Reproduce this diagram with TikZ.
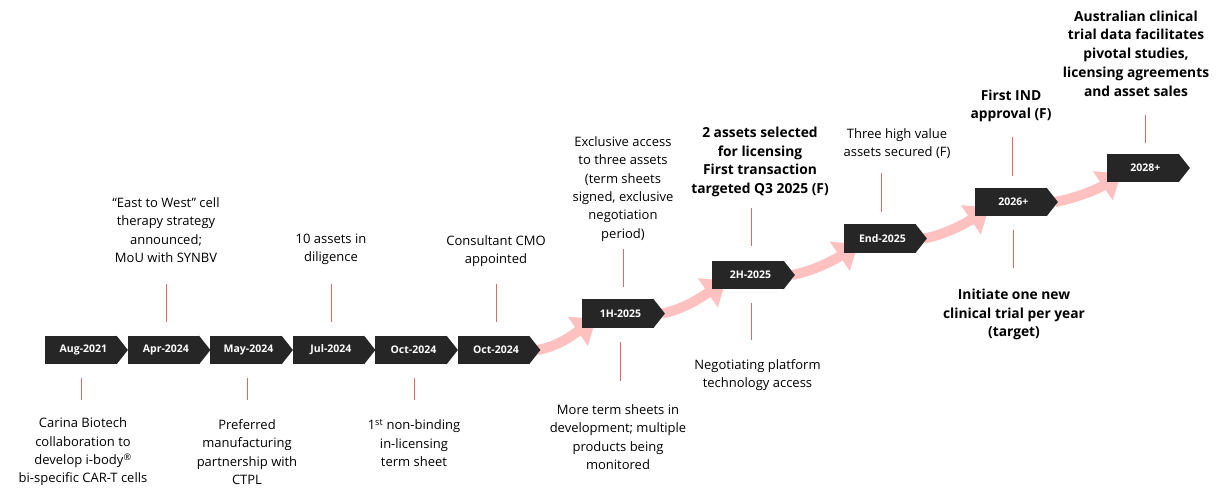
\documentclass[tikz,border=0pt]{standalone}
\usepackage{fontspec}
\setmainfont{Open Sans}
\usetikzlibrary{arrows.meta,backgrounds,calc}
\definecolor{chev}{RGB}{38,38,38}
\definecolor{arr}{RGB}{255,192,192}
\definecolor{tickc}{RGB}{226,104,104}
\tikzset{
  chevbody/.style={fill=chev, minimum width=71.5pt, minimum height=28.5pt, inner sep=0pt, anchor=west},
  chevlab/.style={text=white, font=\bfseries\fontsize{10.5}{12}\selectfont, inner sep=0pt},
  note/.style={align=center, font=\fontsize{13}{18.3}\selectfont, inner sep=0pt},
  bnote/.style={align=center, font=\bfseries\fontsize{13.8}{18.7}\selectfont, inner sep=0pt},
  tick/.style={draw=tickc, line width=1.3pt},
  flow/.style={draw=arr, line width=10pt, -{Triangle[width=34pt,length=22pt]}},
}
\begin{document}
\begin{tikzpicture}[x=1pt,y=-1pt]
\useasboundingbox (0,0) rectangle (1224,496);
% chevrons
\foreach \nm/\x/\y/\lab in {c1/45/350/Aug-2021, c2/127.5/350/Apr-2024, c3/210/350/May-2024,
  c4/292.5/350/Jul-2024, c5/375/350/Oct-2024, c6/457.5/350/Oct-2024,
  h1/582/313.5/1H-2025, h2/712/275/2H-2025, e25/844/238.5/End-2025,
  y26/975/202/2026+, y28/1107/168/2028+}{
  \node[chevbody] (\nm) at (\x,\y) {};
  \fill[chev] ([xshift=-0.4pt]\nm.north east) -- ([xshift=11pt]\nm.east) -- ([xshift=-0.4pt]\nm.south east) -- cycle;
  \node[chevlab] (\nm-l) at ([xshift=2.5pt]\nm.center) {\lab};
}
% flow arrows
\begin{scope}[on background layer]
\foreach \a/\b in {c6/h1, h1/h2, h2/e25, e25/y26, y26/y28}{
  \coordinate (s-\b) at ([xshift=8pt]\a.east);
  \coordinate (t-\b) at ([xshift=14pt,yshift=9pt]\b.south west);
  \draw[flow] (s-\b) .. controls ($(s-\b)+(22,-4)$) and ($(t-\b)+(-22,15)$) .. (t-\b);
}
\end{scope}
% ticks
\draw[tick] ($(c1.south)+(0.5,14)$) -- ++(0,22);
\draw[tick] ($(c3.south)+(1.5,14)$) -- ++(0,22);
\draw[tick] ($(c5.south)+(3.5,14)$) -- ++(0,22);
\draw[tick] ($(c2.north)+(3,-14)$) -- ++(0,-38);
\draw[tick] ($(c4.north)+(3,-14)$) -- ++(0,-38);
\draw[tick] ($(c6.north)+(3,-14)$) -- ++(0,-38);
\draw[tick] ($(h1.north)+(5.5,-12)$) -- ++(0,-38);
\draw[tick] ($(h1.south)+(2.5,14)$) -- ++(0,39);
\draw[tick] ($(h2.north)+(3.5,-15)$) -- ++(0,-38);
\draw[tick] ($(h2.south)+(3.5,14)$) -- ++(0,37);
\draw[tick] ($(e25.north)+(1.5,-12)$) -- ++(0,-39);
\draw[tick] ($(y26.north)+(1.5,-12)$) -- ++(0,-39);
\draw[tick] ($(y26.south)+(2.5,14)$) -- ++(0,38);
\draw[tick] ($(y28.north)+(2.5,-11)$) -- ++(0,-28);
% notes
\node[note] (n1) at (83,452) {Carina Biotech\\collaboration to\\develop i-body\textsuperscript{®}\\bi-specific CAR-T cells};
\node[note] (n2) at (166,230) {“East to West” cell\\therapy strategy\\announced;\\MoU with SYNBV};
\node[note] (n3) at (247,452) {Preferred\\manufacturing\\partnership with\\CTPL};
\node[note] (n4) at (331,249) {10 assets in\\diligence};
\node[note] (n5) at (414,443) {1\textsuperscript{st} non-binding\\in-licensing\\term sheet};
\node[note] (n6) at (496,251) {Consultant CMO\\appointed};
\node[note] (n7) at (623,189) {Exclusive access\\to three assets\\(term sheets\\signed, exclusive\\negotiation\\period)};
\node[note] (n8) at (618,437) {More term sheets in\\development; multiple\\products being\\monitored};
\node[bnote] (n9) at (760,162) {2 assets selected\\for licensing\\First transaction\\targeted Q3 2025 (F)};
\node[note] (n10) at (757.5,375) {Negotiating platform\\technology access};
\node[note] (n11) at (897,143.5) {Three high value\\assets secured (F)};
\node[bnote] (n12) at (1011,106) {First IND\\approval (F)};
\node[bnote] (n13) at (1014,314.5) {Initiate one new\\clinical trial per year\\(target)};
\node[bnote] (n14) at (1136,53.5) {Australian clinical\\trial data facilitates\\pivotal studies,\\licensing agreements\\and asset sales};
\end{tikzpicture}
\end{document}
